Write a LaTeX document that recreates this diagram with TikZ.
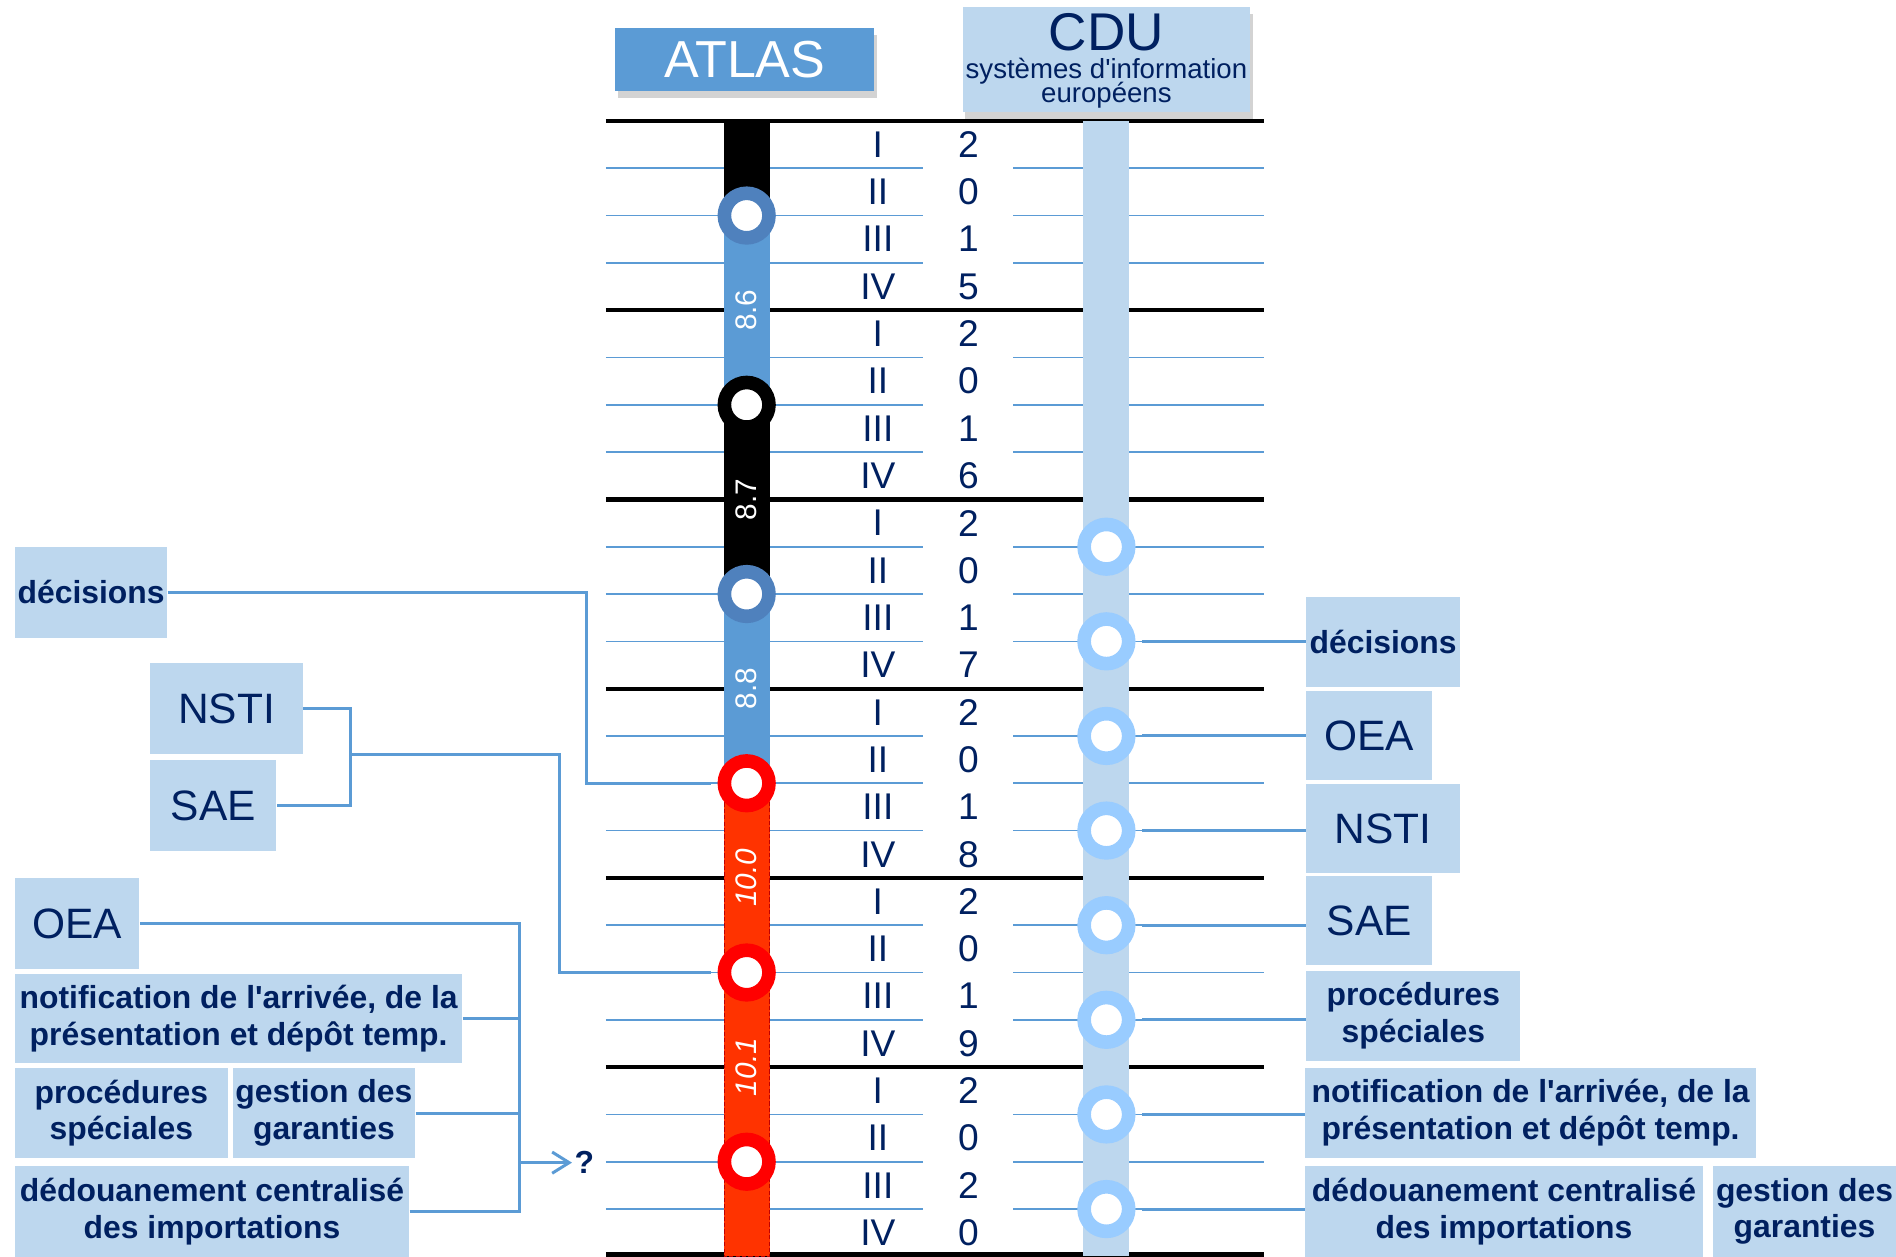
\documentclass[tikz,border=0pt]{standalone}
\usepackage{fontspec}
\setmainfont{Liberation Sans}
\usetikzlibrary{arrows.meta,shadows}
\definecolor{cnavy}{HTML}{002060}
\definecolor{atblue}{HTML}{5B9BD5}
\definecolor{atring}{HTML}{4F81BD}
\definecolor{cdlight}{HTML}{BDD7EE}
\definecolor{cdring}{HTML}{99CCFF}
\definecolor{atred}{HTML}{FF3300}
\definecolor{atdash}{HTML}{C00000}
\tikzset{
  qnum/.style={text=cnavy, font=\fontsize{17.5}{20}\selectfont, inner sep=0pt},
  ring/.style={circle, draw=#1, line width=6.4pt, fill=white, minimum size=21pt, inner sep=0pt},
  vlabel/.style={text=white, rotate=90, font=\fontsize{14}{16}\selectfont, inner sep=0pt},
  infobox/.style={fill=cdlight, text=cnavy, inner sep=1pt, align=center, anchor=north west,
    font=\fontsize{15}{17.3}\selectfont\bfseries},
  bigbox/.style={infobox, font=\fontsize{20}{22}\selectfont},
  sz/.style 2 args={minimum width=#1*0.02cm, minimum height=#2*0.02cm},
  conn/.style={draw=atblue, line width=1.4pt},
  qline/.style={draw=atblue, line width=0.75pt},
  yearline/.style={draw=black, line width=2pt},
  hshadow/.style={drop shadow={shadow xshift=0.04cm, shadow yshift=-0.12cm, opacity=0.35}},
}
\begin{document}
\begin{tikzpicture}[x=0.02cm, y=-0.02cm]
\useasboundingbox (0,0) rectangle (1568,1039);
\foreach \j in {1,...,23}
  \draw[qline] (501,100+39.125*\j) -- (763,100+39.125*\j) (838,100+39.125*\j) -- (1045,100+39.125*\j);
\foreach \k in {0,...,5}
  \draw[yearline] (501,100+156.5*\k) -- (1045,100+156.5*\k);
\draw[yearline] (501,1037.5) -- (1045,1037.5);
\foreach \ya/\yb/\yc/\yd [count=\k from 0] in {2/0/1/5,2/0/1/6,2/0/1/7,2/0/1/8,2/0/1/9,2/0/2/0}
  \foreach \rn/\dg [count=\q from 0] in {I/\ya,II/\yb,III/\yc,IV/\yd} {
    \node[qnum] (r\k\q) at (726,119.56+156.5*\k+39.125*\q) {\rn};
    \node[qnum] (n\k\q) at (801,119.56+156.5*\k+39.125*\q) {\dg};
  }
\fill[black] (599,100) rectangle (636.5,178.25);
\fill[atblue] (599,178.25) rectangle (636.5,334.75);
\fill[black] (599,334.75) rectangle (636.5,491.25);
\fill[atblue] (599,491.25) rectangle (636.5,647.75);
\draw[atdash, fill=atred, dash pattern=on 2pt off 1pt, line width=0.5pt] (599,647.75) rectangle (636.5,1039);
\fill[cdlight] (896,100) rectangle (934,1039);
\foreach \lb [count=\k] in {8.6,8.7,8.8,\textit{10.0},\textit{10.1}}
  \node[vlabel] (v\k) at (617.5,100+156.5*\k) {\lb};
\node[ring=atring] (a1) at (617.5,178.25) {};
\node[ring=black] (a2) at (617.5,334.75) {};
\node[ring=atring] (a3) at (617.5,491.25) {};
\node[ring=red] (a4) at (617.5,647.75) {};
\node[ring=red] (a5) at (617.5,804.25) {};
\node[ring=red] (a6) at (617.5,960.75) {};
\foreach \j [count=\i] in {9,11,...,23}
  \node[ring=cdring] (c\i) at (915,100+39.125*\j) {};
\node[fill=atblue, text=white, font=\fontsize{24.5}{26}\selectfont, sz={214}{52}, hshadow] (atlas) at (616,49) {ATLAS};
\node[fill=cdlight, sz={238}{87}, hshadow] (cdu) at (915,49) {};
\node[anchor=base, text=cnavy, font=\fontsize{25}{26}\selectfont, inner sep=0pt] (cdut) at (915,41.5) {CDU};
\node[anchor=base, text=cnavy, font=\fontsize{13}{13}\selectfont, inner sep=0pt] (cdus1) at (915,65) {systèmes d\textquotesingle information};
\node[anchor=base, text=cnavy, font=\fontsize{13}{13}\selectfont, inner sep=0pt] (cdus2) at (915,85) {européens};
\node[infobox, sz={126}{75}] (ldec) at (12,452) {décisions};
\node[bigbox, sz={126}{75}] (lnsti) at (124,548) {NSTI};
\node[bigbox, sz={104}{75}] (lsae) at (124,628.5) {SAE};
\node[bigbox, sz={103}{75}] (loea) at (12,726) {OEA};
\node[infobox, sz={370}{74}] (lnot) at (12,805) {notification de l\textquotesingle arrivée, de la\\présentation et dépôt temp.};
\node[infobox, sz={176}{74.5}] (lproc) at (12,883) {procédures\\spéciales};
\node[infobox, sz={151}{74.5}] (lgest) at (192,883) {gestion des\\garanties};
\node[infobox, sz={326}{75}] (lded) at (12,964) {dédouanement centralisé\\des importations};
\node[infobox, sz={127}{75}] (rdec) at (1080,493) {décisions};
\node[bigbox, sz={104}{74}] (roea) at (1080,571) {OEA};
\node[bigbox, sz={127}{74}] (rnsti) at (1080,648) {NSTI};
\node[bigbox, sz={104}{74}] (rsae) at (1080,724) {SAE};
\node[infobox, sz={177}{74.5}] (rproc) at (1080,802.5) {procédures\\spéciales};
\node[infobox, sz={373}{74}] (rnot) at (1079,883) {notification de l\textquotesingle arrivée, de la\\présentation et dépôt temp.};
\node[infobox, sz={329}{75}] (rded) at (1079,964) {dédouanement centralisé\\des importations};
\node[infobox, sz={152}{75}] (rgest) at (1416,964) {gestion des\\garanties};
\foreach \i/\bx in {2/rdec,3/roea,4/rnsti,5/rsae,6/rproc,7/rnot,8/rded}
  \draw[conn, shorten <=3.2pt] (c\i.east) -- (c\i.east -| \bx.west);
\coordinate (jdec) at (485,647.75);
\draw[conn, shorten >=3.2pt] (ldec.east) -| (jdec) -- (a4.west);
\coordinate (jns) at (289.5,624);
\coordinate (kns) at (463,624);
\draw[conn] (lnsti.east) -| (jns) |- (lsae.east);
\draw[conn, shorten >=3.2pt] (jns) -- (kns) |- (a5.west);
\coordinate (jbus) at (430,961.5);
\foreach \bx in {loea,lnot,lgest,lded}
  \draw[conn] (\bx.east) -| (jbus);
\node[text=cnavy, font=\fontsize{15}{17}\selectfont\bfseries, inner sep=1pt, anchor=west] (qm) at (473,961.5) {?};
\draw[conn, -{Straight Barb[length=8pt,width=10pt]}] (jbus) -- (qm.west);
\end{tikzpicture}
\end{document}
